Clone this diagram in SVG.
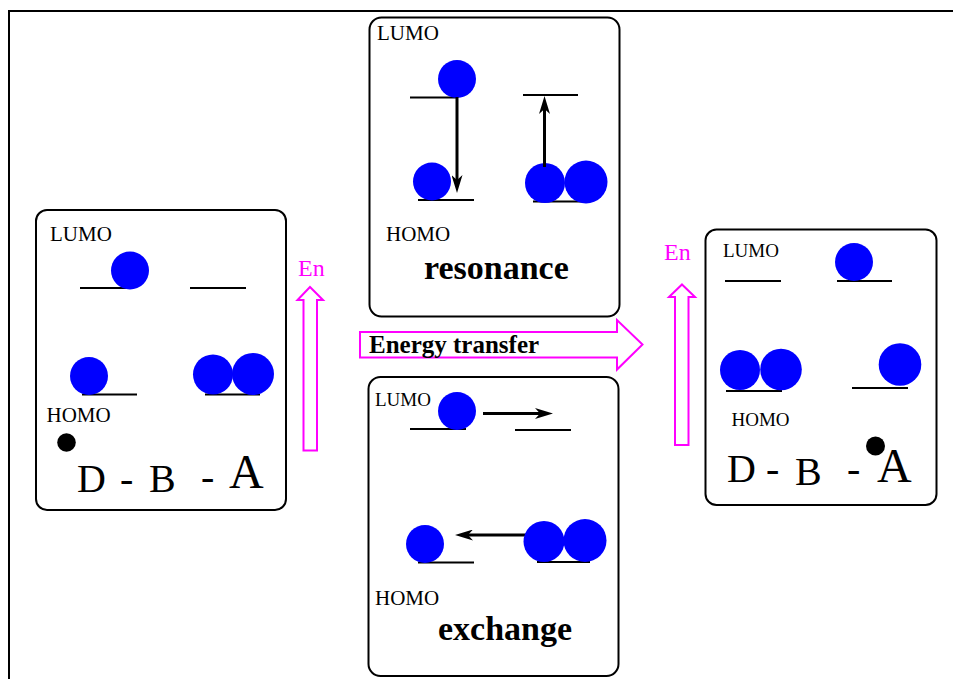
<svg xmlns="http://www.w3.org/2000/svg" width="953" height="679" viewBox="0 0 953 679">
<style>
.box{fill:#fff;stroke:#000;stroke-width:2}
.lvl{stroke:#000;stroke-width:2}
.e{fill:#0000ff}
.dot{fill:#000}
.lab{font-family:"Liberation Serif","Times New Roman",serif;fill:#000}
.big{font-family:"Liberation Serif","Times New Roman",serif;font-size:40px;fill:#000}
.bigA{font-family:"Liberation Serif","Times New Roman",serif;font-size:48px;fill:#000}
.bold{font-family:"Liberation Serif","Times New Roman",serif;font-weight:bold;fill:#000}
.en{font-family:"Liberation Serif","Times New Roman",serif;font-size:24px;fill:#ff00ff}
.mag{fill:#fff;stroke:#ff00ff;stroke-width:2}
.arr{stroke:#000;stroke-width:3;fill:none;marker-end:url(#ah)}
</style>
<defs>
<marker id="ah" markerUnits="userSpaceOnUse" markerWidth="18" markerHeight="11" refX="8" refY="5.5" orient="auto">
<path d="M0,0 L18,5.5 L0,11 L5,5.5 Z" fill="#000"/>
</marker>
</defs>
<rect width="953" height="679" fill="#fff"/>
<g id="frame">
<line x1="8" y1="11" x2="953" y2="11" stroke="#000" stroke-width="2"/>
<line x1="9" y1="10" x2="9" y2="679" stroke="#000" stroke-width="2"/>
</g>

<g id="initial-state">
<rect class="box" x="36" y="210" width="250" height="300" rx="11"/>
<text class="lab" x="50" y="241" font-size="21">LUMO</text>
<line class="lvl" x1="80" y1="288" x2="128" y2="288"/>
<line class="lvl" x1="190" y1="288" x2="246" y2="288"/>
<circle class="e" cx="130" cy="270.5" r="19"/>
<line class="lvl" x1="82" y1="394.5" x2="137" y2="394.5"/>
<line class="lvl" x1="205" y1="394.5" x2="260" y2="394.5"/>
<circle class="e" cx="89" cy="376" r="19"/>
<circle class="e" cx="213" cy="374.5" r="20"/>
<circle class="e" cx="253" cy="374" r="21"/>
<text class="lab" x="46.5" y="422" font-size="21">HOMO</text>
<circle class="dot" cx="66.5" cy="442.5" r="9.3"/>
<text class="big" x="77" y="492">D</text>
<text class="big" x="120" y="492">-</text>
<text class="big" x="149" y="492">B</text>
<text class="big" x="201" y="490">-</text>
<text class="bigA" x="229" y="488">A</text>
</g>

<g id="resonance">
<rect class="box" x="369.5" y="17.5" width="250" height="299" rx="12"/>
<text class="lab" x="377" y="40" font-size="21">LUMO</text>
<line class="lvl" x1="410" y1="97.5" x2="457" y2="97.5"/>
<circle class="e" cx="457" cy="79" r="19"/>
<line class="lvl" x1="418" y1="200" x2="474" y2="200"/>
<circle class="e" cx="432" cy="181.5" r="19"/>
<line class="lvl" x1="523" y1="95" x2="578" y2="95"/>
<line class="lvl" x1="533" y1="201.5" x2="588" y2="201.5"/>
<circle class="e" cx="545" cy="183" r="20"/>
<circle class="e" cx="586" cy="182" r="21.5"/>
<path class="arr" d="M457,97 L457,183"/>
<path class="arr" d="M544.5,167 L544.5,106"/>
<text class="lab" x="386" y="241" font-size="21">HOMO</text>
<text class="bold" x="424" y="278.5" font-size="34">resonance</text>
</g>

<g id="exchange">
<rect class="box" x="368.5" y="377" width="250" height="299" rx="12"/>
<text class="lab" x="375" y="406" font-size="19">LUMO</text>
<line class="lvl" x1="410" y1="429" x2="466" y2="429"/>
<circle class="e" cx="457" cy="411" r="19"/>
<line class="lvl" x1="515" y1="430" x2="571" y2="430"/>
<path class="arr" d="M483,413.5 L543,413.5"/>
<line class="lvl" x1="418" y1="562.5" x2="474" y2="562.5"/>
<circle class="e" cx="425" cy="544" r="19"/>
<line class="lvl" x1="537" y1="562" x2="590" y2="562"/>
<path class="arr" d="M527,535 L465,535"/>
<circle class="e" cx="544" cy="541.5" r="20.5"/>
<circle class="e" cx="585" cy="540.5" r="21.5"/>
<text class="lab" x="375" y="605" font-size="21">HOMO</text>
<text class="bold" x="438" y="639.5" font-size="34">exchange</text>
</g>

<g id="final-state">
<rect class="box" x="705.5" y="229.5" width="231" height="275.5" rx="11"/>
<text class="lab" x="723" y="257" font-size="19">LUMO</text>
<line class="lvl" x1="725" y1="281" x2="781" y2="281"/>
<line class="lvl" x1="837" y1="281" x2="892" y2="281"/>
<circle class="e" cx="854" cy="262" r="19"/>
<line class="lvl" x1="726" y1="391" x2="782" y2="391"/>
<circle class="e" cx="740" cy="370" r="20"/>
<circle class="e" cx="781" cy="369.5" r="20.8"/>
<line class="lvl" x1="852" y1="388" x2="908" y2="388"/>
<circle class="e" cx="900" cy="364.5" r="21.3"/>
<text class="lab" x="731.5" y="426" font-size="19">HOMO</text>
<circle class="dot" cx="875.5" cy="446" r="9.5"/>
<text class="big" x="727" y="482">D</text>
<text class="big" x="766" y="482">-</text>
<text class="big" x="795" y="485">B</text>
<text class="big" x="847" y="482">-</text>
<text class="bigA" x="877" y="482">A</text>
</g>

<g id="connectors">
<g id="energy-left">
<polygon class="mag" points="310,287 323,300 317,300 317,450.5 303.5,450.5 303.5,300 297.5,300"/>
<text class="en" x="298" y="276">En</text>
</g>
<g id="energy-transfer">
<polygon class="mag" points="360,332 617,332 617,320 642.5,344.5 617,369.5 617,357.5 360,357.5"/>
<text class="bold" x="369" y="352.5" font-size="25">Energy transfer</text>
</g>
<g id="energy-right">
<polygon class="mag" points="682,284.5 695,297 688.5,297 688.5,445 675,445 675,297 669,297"/>
<text class="en" x="664" y="260">En</text>
</g>
</g>
</svg>
